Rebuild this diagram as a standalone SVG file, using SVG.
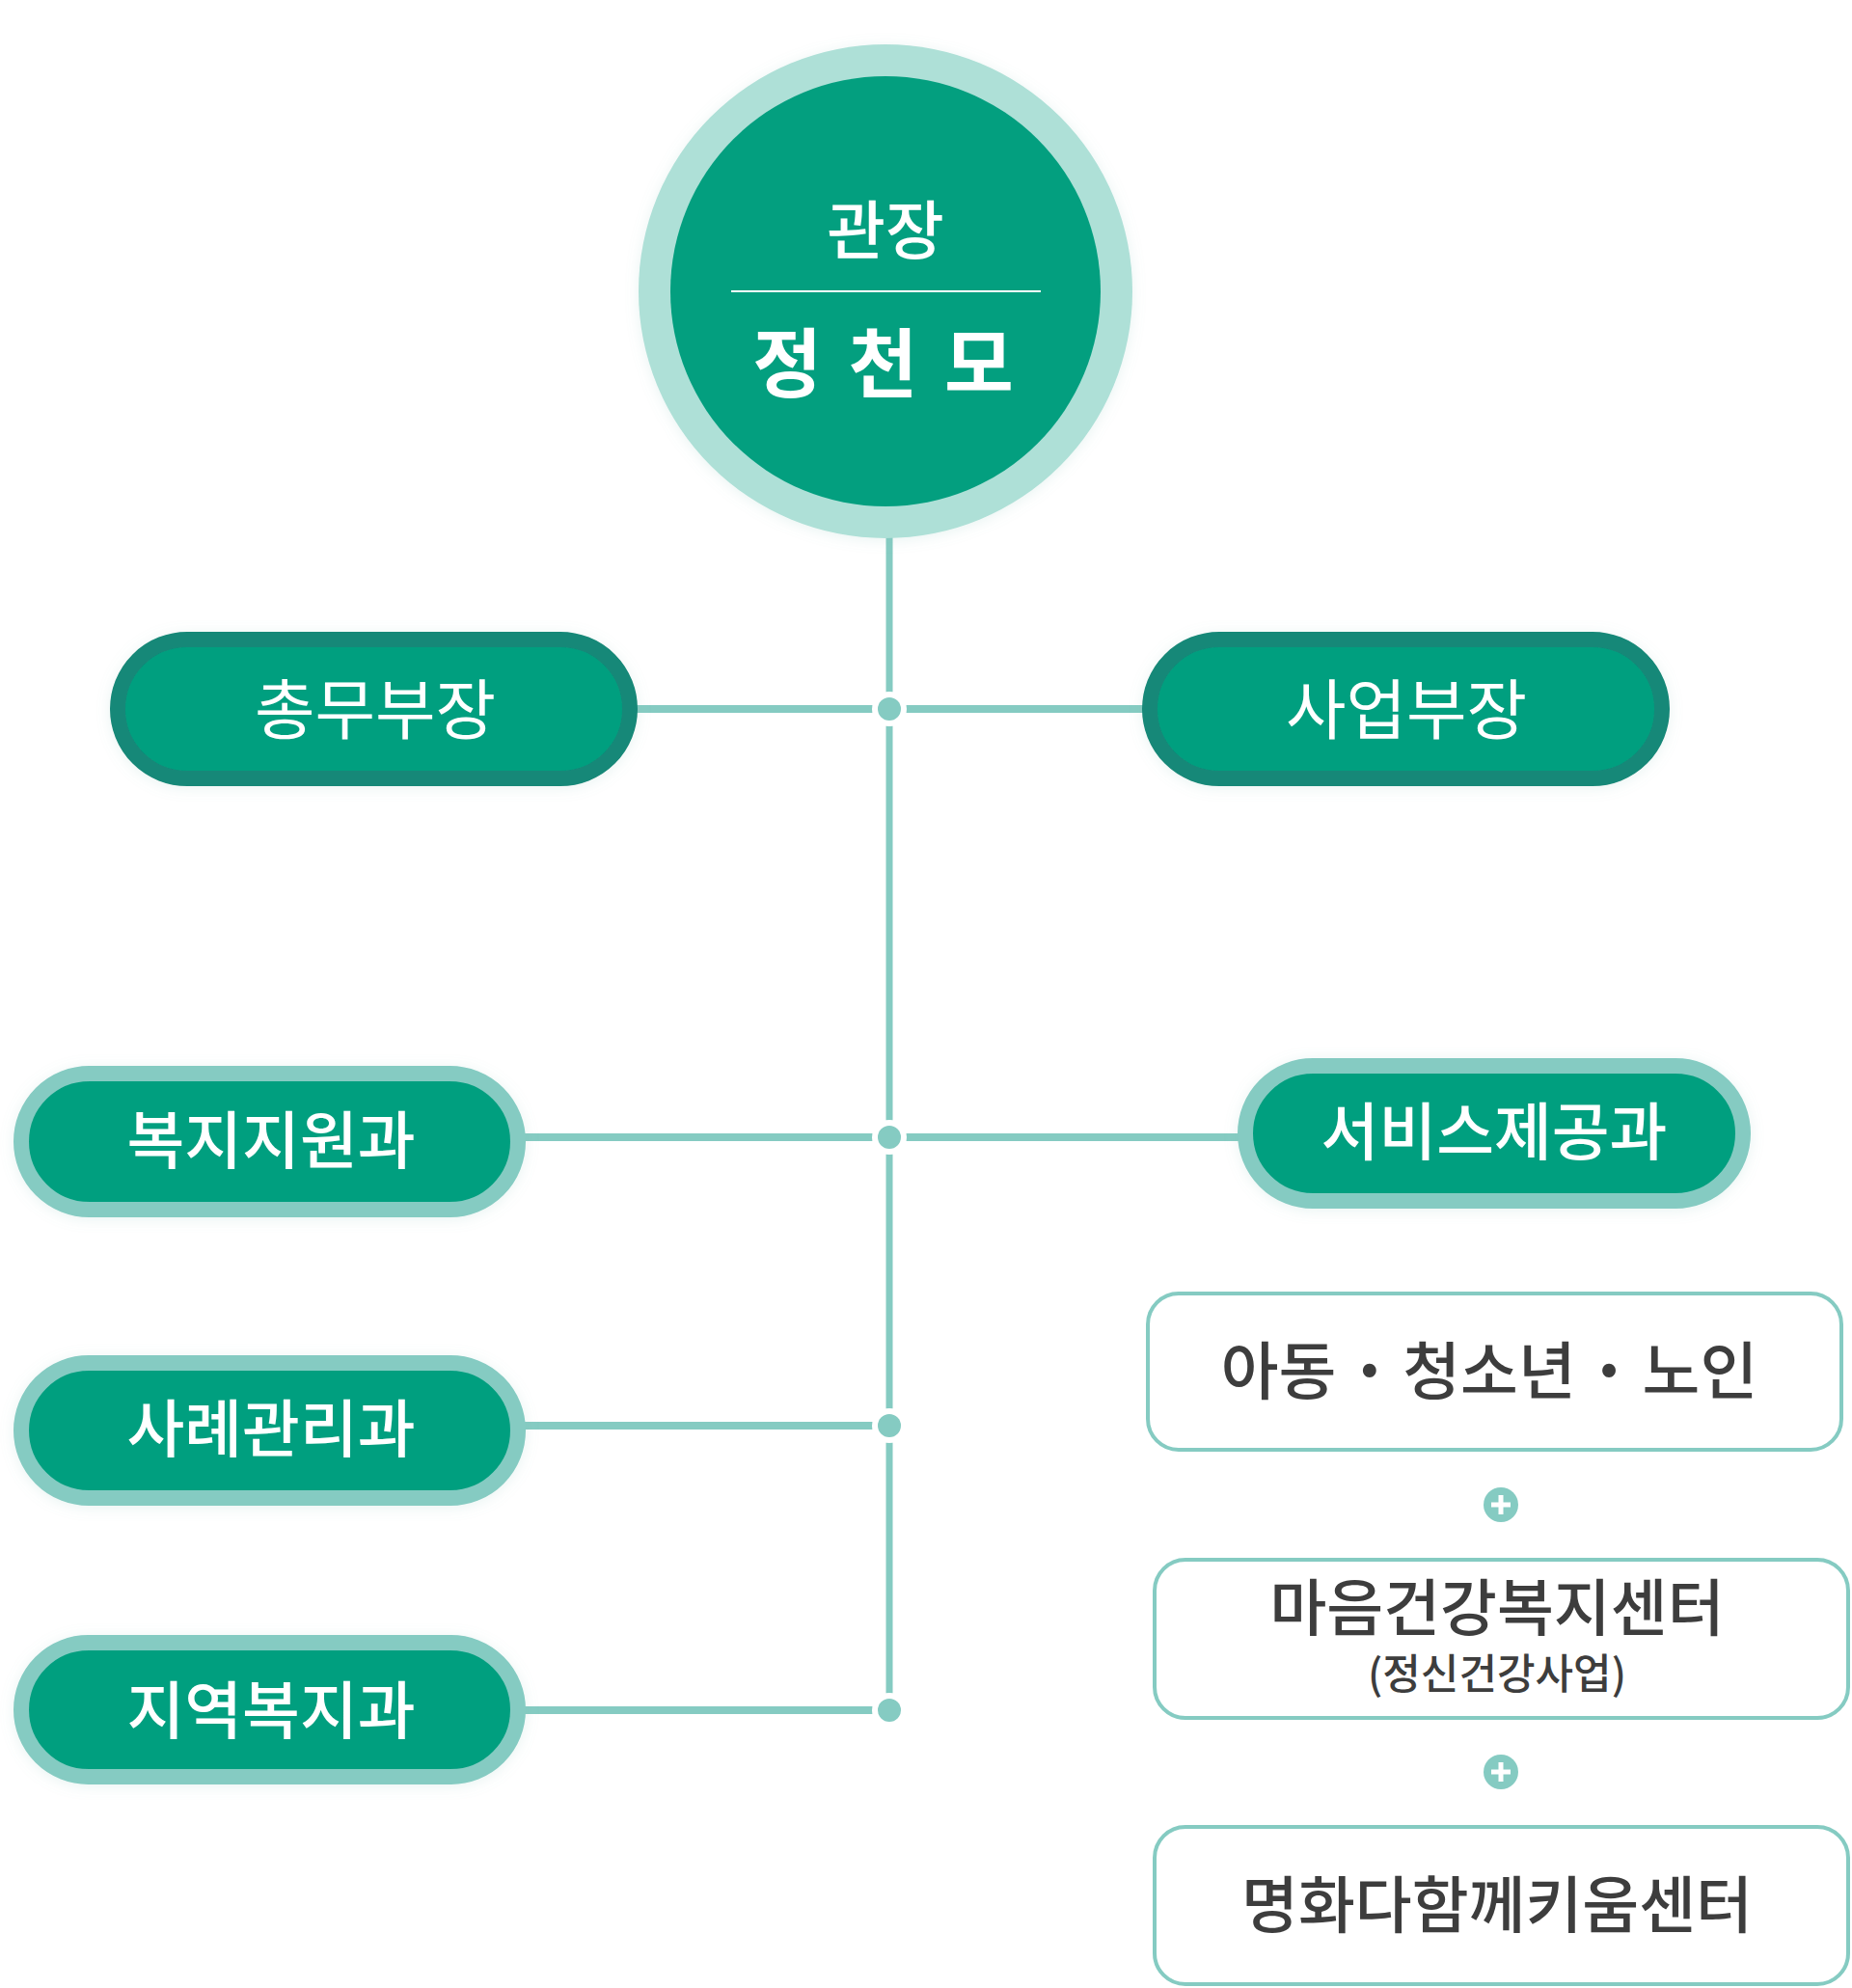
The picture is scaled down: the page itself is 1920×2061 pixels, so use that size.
<svg xmlns="http://www.w3.org/2000/svg" width="1920" height="2061" viewBox="0 0 1920 2061">
<defs>
<filter id="glow" x="-20%" y="-20%" width="140%" height="140%">
<feDropShadow dx="0" dy="2" stdDeviation="7" flood-color="#7fbfb3" flood-opacity="0.18"/>
</filter>
</defs>
<style>
text{font-family:"Noto Sans CJK KR","Noto Sans",sans-serif;text-anchor:middle}
.w{fill:#ffffff}
.d{fill:#3d3d3d}
.line{stroke:#85cbc2;fill:none}
.pillA{fill:#039f7f;stroke:#138878;stroke-width:16}
.pillB{fill:#039f7f;stroke:#85cbc2;stroke-width:16}
.box{fill:#ffffff;stroke:#85cbc2;stroke-width:4}
.dotw{fill:#ffffff}
.dot{fill:#85cbc2}
</style>
<rect width="1920" height="2061" fill="#ffffff"/>

<g id="connectors">
<line class="line" x1="922" y1="555" x2="922" y2="1773" stroke-width="7"/>
<line class="line" x1="655" y1="735" x2="1190" y2="735" stroke-width="8"/>
<line class="line" x1="540" y1="1179" x2="1290" y2="1179" stroke-width="8"/>
<line class="line" x1="540" y1="1478" x2="922" y2="1478" stroke-width="8"/>
<line class="line" x1="540" y1="1773" x2="922" y2="1773" stroke-width="8"/>
<circle class="dotw" cx="922" cy="735" r="18"/><circle class="dot" cx="922" cy="735" r="12"/>
<circle class="dotw" cx="922" cy="1179" r="18"/><circle class="dot" cx="922" cy="1179" r="12"/>
<circle class="dotw" cx="922" cy="1478" r="18"/><circle class="dot" cx="922" cy="1478" r="12"/>
<circle class="dotw" cx="922" cy="1773" r="18"/><circle class="dot" cx="922" cy="1773" r="12"/>
</g>

<g id="director">
<circle cx="918" cy="302" r="256" fill="#aee0d7" filter="url(#glow)"/>
<circle cx="918" cy="302" r="223" fill="#039f7f"/>
<text class="w" x="918" y="263" font-size="66" font-weight="500">관장</text>
<line x1="758" y1="302" x2="1079" y2="302" stroke="#ffffff" stroke-width="2"/>
<text class="w" x="918" y="406" font-size="78" font-weight="700" letter-spacing="5">정 천 모</text>
</g>

<g id="chongmu">
<rect class="pillA" x="122" y="663" width="531" height="144" rx="72" filter="url(#glow)"/>
<text class="w" x="389" y="761" font-size="68" font-weight="400">총무부장</text>
</g>

<g id="saeop">
<rect class="pillA" x="1192" y="663" width="531" height="144" rx="72" filter="url(#glow)"/>
<text class="w" x="1458" y="761" font-size="68" font-weight="400">사업부장</text>
</g>

<g id="bokji">
<rect class="pillB" x="22" y="1113" width="515" height="141" rx="70.5" filter="url(#glow)"/>
<text class="w" x="281" y="1206" font-size="65" font-weight="500">복지지원과</text>
</g>

<g id="sarye">
<rect class="pillB" x="22" y="1413" width="515" height="140" rx="70" filter="url(#glow)"/>
<text class="w" x="281" y="1505" font-size="65" font-weight="500">사례관리과</text>
</g>

<g id="jiyeok">
<rect class="pillB" x="22" y="1703" width="515" height="139" rx="69.5" filter="url(#glow)"/>
<text class="w" x="281" y="1797" font-size="65" font-weight="500">지역복지과</text>
</g>

<g id="service">
<rect class="pillB" x="1291" y="1105" width="516" height="140" rx="70" filter="url(#glow)"/>
<text class="w" x="1549" y="1197" font-size="65" font-weight="500">서비스제공과</text>
</g>

<g id="box1">
<rect class="box" x="1190" y="1341" width="719" height="162" rx="32"/>
<text class="d" x="1544" y="1445" font-size="65" font-weight="500">아동 <tspan font-weight="900">·</tspan> 청소년 <tspan font-weight="900">·</tspan> 노인</text>
</g>

<g id="plus1">
<circle cx="1556" cy="1560" r="18" fill="#85cbc2"/>
<path d="M1546 1560h20M1556 1550v20" stroke="#ffffff" stroke-width="5"/>
</g>

<g id="box2">
<rect class="box" x="1197" y="1617" width="719" height="164" rx="32"/>
<text class="d" x="1552" y="1690" font-size="64" font-weight="500">마음건강복지센터</text>
<text class="d" x="1552" y="1751" font-size="43" font-weight="500">(정신건강사업)</text>
</g>

<g id="plus2">
<circle cx="1556" cy="1837" r="18" fill="#85cbc2"/>
<path d="M1546 1837h20M1556 1827v20" stroke="#ffffff" stroke-width="5"/>
</g>

<g id="box3">
<rect class="box" x="1197" y="1894" width="719" height="163" rx="32"/>
<text class="d" x="1552" y="1998" font-size="64" font-weight="500">명화다함께키움센터</text>
</g>
</svg>
